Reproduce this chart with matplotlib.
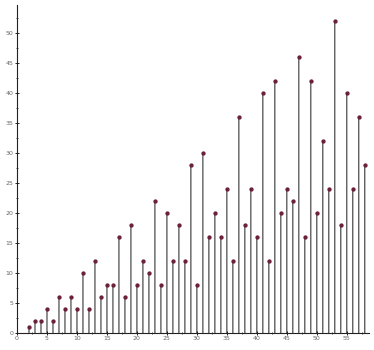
import numpy as np
import matplotlib.pyplot as plt
from matplotlib.ticker import MultipleLocator

n = list(range(2, 59))
phi = [1, 2, 2, 4, 2, 6, 4, 6, 4, 10, 4, 12, 6, 8, 8, 16, 6, 18, 8, 12,
       10, 22, 8, 20, 12, 18, 12, 28, 8, 30, 16, 20, 16, 24, 12, 36, 18, 24, 16, 40,
       12, 42, 20, 24, 22, 46, 16, 42, 20, 32, 24, 52, 18, 40, 24, 36, 28]

W, H = 374, 350
fig = plt.figure(figsize=(W / 100, H / 100), dpi=100)
ax = fig.add_axes([17 / W, 17 / H, 352 / W, 328 / H])

markers, stems, base = ax.stem(n, phi, basefmt=' ')
stems.set_color('#1a1a1a')
stems.set_linewidth(0.7)
stems.set_snap(False)
markers.set_color('#6b1f3a')
markers.set_markersize(2.1)
markers.set_zorder(3)

ax.set_xlim(0, 58.7)
ax.set_ylim(0, 54.7)
for s in ['top', 'right']:
    ax.spines[s].set_visible(False)
for s in ['left', 'bottom']:
    ax.spines[s].set_linewidth(0.8)
    ax.spines[s].set_color('#222222')

ax.xaxis.set_major_locator(MultipleLocator(5))
ax.yaxis.set_major_locator(MultipleLocator(5))
ax.xaxis.set_minor_locator(MultipleLocator(2.5))
ax.yaxis.set_minor_locator(MultipleLocator(2.5))
ax.tick_params(which='major', direction='inout', length=3, width=0.6,
               labelsize=4.5, labelcolor='#666666', pad=1)
ax.tick_params(which='minor', direction='inout', length=1.5, width=0.5)

fig.savefig('out.png', dpi=100)
